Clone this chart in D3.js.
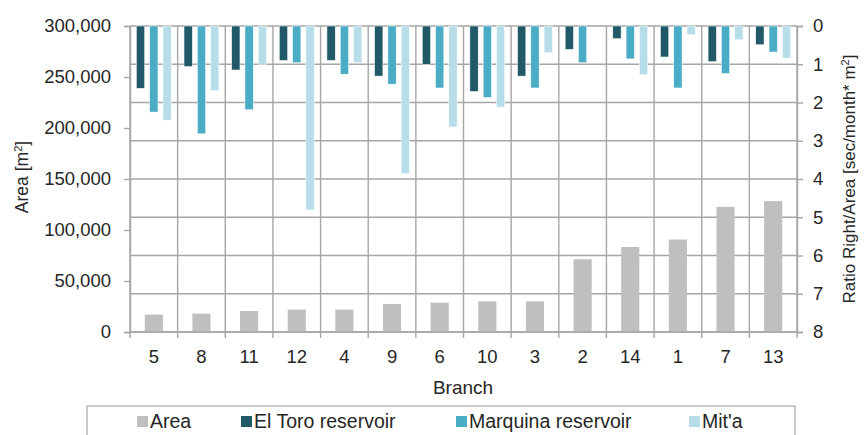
<!DOCTYPE html>
<html>
<head>
<meta charset="utf-8">
<script src="https://cdn.jsdelivr.net/npm/d3@7"></script>
<style>
  body { margin: 0; background: #fff; }
  svg { display: block; font-family: "Liberation Sans", Arial, sans-serif; }
</style>
</head>
<body>
<svg width="864" height="435"></svg>
<script>
// dados
const branches = ["5", "8", "11", "12", "4", "9", "6", "10", "3", "2", "14", "1", "7", "13"];
const area = [17100, 18000, 20600, 22000, 22000, 27500, 28800, 30100, 30000, 71300, 83400, 90700, 122700, 128300];
const elToro = [1.63, 1.06, 1.15, 0.90, 0.90, 1.31, 1.00, 1.71, 1.31, 0.61, 0.33, 0.81, 0.93, 0.49];
const marquina = [2.25, 2.82, 2.19, 0.96, 1.26, 1.52, 1.62, 1.87, 1.62, 0.96, 0.86, 1.62, 1.24, 0.68];
const mita = [2.46, 1.69, 1.00, 4.81, 0.96, 3.86, 2.64, 2.12, 0.70, 0, 1.27, 0.23, 0.36, 0.84];

const seriesNames = ["El Toro reservoir", "Marquina reservoir", "Mit'a"];
const seriesValues = [elToro, marquina, mita];
const colors = { area: "#bfbfbf", "El Toro reservoir": "#215968", "Marquina reservoir": "#4bacc6", "Mit'a": "#b7dee8" };

const svg = d3.select("svg");
const margem = { left: 130, right: 797, top: 26, bottom: 332 };
const gridColor = "#a6a6a6";
const textColor = "#262626";

const x = d3.scaleBand().domain(branches).range([margem.left, margem.right]).padding(0);
const xSub = d3.scaleBand().domain(seriesNames).range([0, x.bandwidth()])
    .paddingInner(0.375).paddingOuter(0.48);
const yL = d3.scaleLinear().domain([0, 300000]).range([margem.bottom, margem.top]);
const yR = d3.scaleLinear().domain([0, 8]).range([margem.top, margem.bottom]);

// grade horizontal (eixo secundário)
svg.append("g").selectAll("line")
    .data(d3.range(0, 9))
    .enter().append("line")
    .attr("x1", margem.left).attr("x2", margem.right)
    .attr("y1", d => yR(d)).attr("y2", d => yR(d))
    .attr("stroke", gridColor).attr("stroke-width", 1.4);

// grade vertical nas divisões das categorias
const bounds = branches.map(b => x(b)).concat([margem.right]);
svg.append("g").selectAll("line")
    .data(bounds)
    .enter().append("line")
    .attr("x1", d => d).attr("x2", d => d)
    .attr("y1", margem.top).attr("y2", margem.bottom + 6)
    .attr("stroke", gridColor).attr("stroke-width", 1.4);

// barras de área
const aw = x.bandwidth() * 0.38;
svg.append("g").selectAll("rect")
    .data(area)
    .enter().append("rect")
    .attr("x", (d, i) => x(branches[i]) + (x.bandwidth() - aw) / 2)
    .attr("width", aw)
    .attr("y", d => yL(d))
    .attr("height", d => yL(0) - yL(d))
    .attr("fill", colors.area);

// barras de razão (penduradas do topo)
seriesNames.forEach((name, s) => {
    svg.append("g").selectAll("rect")
        .data(seriesValues[s])
        .enter().append("rect")
        .attr("x", (d, i) => x(branches[i]) + xSub(name))
        .attr("width", xSub.bandwidth())
        .attr("y", yR(0))
        .attr("height", d => yR(d) - yR(0))
        .attr("fill", colors[name])
        .attr("stroke", "#fff").attr("stroke-width", 0.5);
});

// eixos
const axisL = svg.append("g").attr("transform", `translate(${margem.left},0)`)
    .call(d3.axisLeft(yL).tickValues(d3.range(0, 300001, 50000)).tickSize(6).tickPadding(13)
        .tickFormat(d3.format(",")));
const axisR = svg.append("g").attr("transform", `translate(${margem.right},0)`)
    .call(d3.axisRight(yR).ticks(8).tickSize(6).tickPadding(10).tickFormat(d3.format("d")));
[axisL, axisR].forEach(a => {
    a.select(".domain").attr("stroke", gridColor).attr("stroke-width", 1.4);
    a.selectAll(".tick line").attr("stroke", gridColor).attr("stroke-width", 1.4);
    a.selectAll("text").attr("fill", textColor).style("font-size", "18.5px");
});

svg.append("line")
    .attr("x1", margem.left).attr("x2", margem.right).attr("y1", margem.bottom).attr("y2", margem.bottom)
    .attr("stroke", gridColor).attr("stroke-width", 1.4);

svg.append("g").selectAll("text")
    .data(branches)
    .enter().append("text")
    .attr("x", d => x(d) + x.bandwidth() / 2)
    .attr("y", 363)
    .attr("text-anchor", "middle")
    .attr("fill", textColor)
    .style("font-size", "18.5px")
    .text(d => d);

// títulos
svg.append("text")
    .attr("x", 463).attr("y", 394)
    .attr("text-anchor", "middle").attr("fill", textColor)
    .style("font-size", "19px")
    .text("Branch");

const tL = svg.append("text")
    .attr("transform", "translate(28,177) rotate(-90)")
    .attr("text-anchor", "middle").attr("fill", textColor)
    .style("font-size", "17.5px");
tL.append("tspan").text("Area [m");
tL.append("tspan").attr("dy", -6).style("font-size", "11px").text("2");
tL.append("tspan").attr("dy", 6).text("]");

const tR = svg.append("text")
    .attr("transform", "translate(855,179) rotate(-90)")
    .attr("text-anchor", "middle").attr("fill", textColor)
    .style("font-size", "17px");
tR.append("tspan").text("Ratio  Right/Area [sec/month* m");
tR.append("tspan").attr("dy", -6).style("font-size", "11px").text("2");
tR.append("tspan").attr("dy", 6).text("]");

// legenda
const legend = svg.append("g");
legend.append("rect")
    .attr("x", 87).attr("y", 406).attr("width", 708).attr("height", 40)
    .attr("fill", "#fff").attr("stroke", gridColor).attr("stroke-width", 1.2);
const legendItems = [
    { name: "Area", color: colors.area, x: 137 },
    { name: "El Toro reservoir", color: colors["El Toro reservoir"], x: 241 },
    { name: "Marquina reservoir", color: colors["Marquina reservoir"], x: 456 },
    { name: "Mit'a", color: colors["Mit'a"], x: 689 }
];
const li = legend.selectAll("g.item")
    .data(legendItems)
    .enter().append("g").attr("class", "item")
    .attr("transform", d => `translate(${d.x},0)`);
li.append("rect")
    .attr("x", 0).attr("y", 416).attr("width", 11).attr("height", 11)
    .attr("fill", d => d.color);
li.append("text")
    .attr("x", 13).attr("y", 428)
    .attr("fill", textColor)
    .style("font-size", "19.5px")
    .text(d => d.name);
</script>
</body>
</html>
